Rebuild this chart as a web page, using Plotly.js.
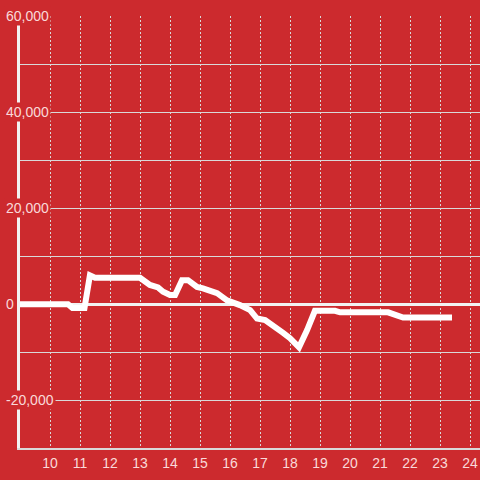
<!DOCTYPE html>
<html>
<head>
<meta charset="utf-8">
<script src="https://cdn.plot.ly/plotly-3.0.1.min.js"></script>
<style>html,body{margin:0;padding:0;background:#cc2a2e;}#chart{width:480px;height:480px;}</style>
</head>
<body>
<div id="chart"></div>
<script>
const hours = [9, 10.6, 10.75, 11.15, 11.33, 11.5, 12, 12.5, 13.0, 13.33, 13.6, 13.77, 14.0, 14.17, 14.4, 14.6, 14.9, 15.1, 15.4, 15.57, 15.9, 16.1, 16.33, 16.67, 16.9, 17.17, 17.5, 17.77, 18.0, 18.3, 18.57, 18.83, 19.5, 19.67, 21.27, 21.77, 23.4];
const values = [0, 0, -800, -800, 6000, 5500, 5500, 5500, 5500, 4000, 3500, 2600, 1900, 1900, 5000, 5000, 3600, 3300, 2800, 2300, 800, 400, -200, -1250, -3000, -3300, -5000, -6000, -7100, -9000, -5400, -1400, -1400, -1700, -1700, -2800, -2800];
const xTicks = [10, 11, 12, 13, 14, 15, 16, 17, 18, 19, 20, 21, 22, 23, 24];
const yTicks = [-20000, 0, 20000, 40000, 60000];
const yTickText = ['-20,000', '0', '20,000', '40,000', '60,000'];

const bg = '#cc2a2e';
const labelColor = 'rgba(255,235,235,0.92)';

const yLabels = yTicks.map((v, i) => ({
  xref: 'x', yref: 'y', x: 9, y: v, xanchor: 'left', yanchor: 'middle',
  xshift: -16, text: yTickText[i], showarrow: false,
  bgcolor: bg, borderpad: 1,
  font: {family: 'Liberation Sans, Arial, sans-serif', size: 14, color: labelColor}
}));

Plotly.newPlot('chart', [{
  x: hours, y: values, type: 'scatter', mode: 'lines',
  line: {color: '#ffffff', width: 6},
  hoverinfo: 'skip'
}], {
  width: 480, height: 480,
  paper_bgcolor: bg, plot_bgcolor: bg,
  margin: {l: 20, r: 0, t: 16, b: 32},
  showlegend: false,
  font: {family: 'Liberation Sans, Arial, sans-serif', size: 14, color: labelColor},
  xaxis: {
    range: [9, 24.333],
    tickvals: xTicks, ticktext: xTicks.map(String),
    showgrid: true, gridcolor: '#d9d9d9', gridwidth: 1, griddash: '2px,2px',
    showline: true, linecolor: '#d9d9d9', linewidth: 1.5,
    zeroline: false, ticks: '', ticklabelstandoff: 2,
    tickfont: {size: 14, color: labelColor}
  },
  yaxis: {
    range: [-30000, 60100],
    dtick: 10000, tick0: 0,
    showticklabels: false,
    showgrid: true, gridcolor: '#d9d9d9', gridwidth: 1,
    showline: true, linecolor: '#f2f2f2', linewidth: 3,
    zeroline: true, zerolinecolor: '#f2f2f2', zerolinewidth: 3,
    ticks: ''
  },
  annotations: yLabels
}, {displayModeBar: false, staticPlot: true});
</script>
</body>
</html>
